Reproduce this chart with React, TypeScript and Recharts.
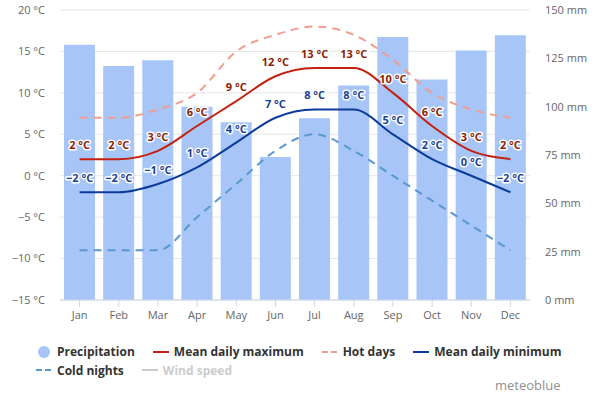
import React from 'react';
import {
  ComposedChart,
  Bar,
  Line,
  XAxis,
  YAxis,
  CartesianGrid,
  LabelList,
} from 'recharts';

const months = ['Jan', 'Feb', 'Mar', 'Apr', 'May', 'Jun', 'Jul', 'Aug', 'Sep', 'Oct', 'Nov', 'Dec'];
const precipitation = [132, 121, 124, 100, 92, 74, 94, 111, 136, 114, 129, 137];
const meanMax = [2, 2, 3, 6, 9, 12, 13, 13, 10, 6, 3, 2];
const meanMin = [-2, -2, -1, 1, 4, 7, 8, 8, 5, 2, 0, -2];
const hotDays = [7, 7, 8, 10, 15, 17, 18, 17, 14, 10, 8, 7];
const coldNights = [-9, -9, -9, -5, -1, 3, 5, 3, 0, -3, -6, -9];

const tempTicks = [-15, -10, -5, 0, 5, 10, 15, 20];
const mmTicks = [0, 25, 50, 75, 100, 125, 150];

const COLORS = {
  bar: '#a7c6f7',
  max: '#c5200f',
  maxLabel: '#8c1d05',
  min: '#0c3b9b',
  minLabel: '#1a3f92',
  hot: '#f19d8d',
  cold: '#5b97cf',
  grid: '#e6e6e6',
  axis: '#ccd6eb',
  tick: '#666666',
  legend: '#333333',
  hidden: '#cccccc',
};

const FONT = '"Open Sans", "DejaVu Sans", sans-serif';

const data = months.map((m, i) => ({
  month: m,
  precipitation: precipitation[i],
  max: meanMax[i],
  min: meanMin[i],
  hot: hotDays[i],
  cold: coldNights[i],
}));

const fmtNum = (v: number) => (v < 0 ? `\u2212${Math.abs(v)}` : `${v}`);
const fmtTemp = (v: number) => `${fmtNum(v)} °C`;

const tempLabel = (color: string) => (props: any) => {
  const { x, y, value } = props;
  return (
    <text
      x={x}
      y={y - 10}
      textAnchor="middle"
      fill={color}
      stroke="#ffffff"
      strokeWidth={3}
      strokeLinejoin="round"
      paintOrder="stroke"
      fontSize={11}
      fontWeight="bold"
      fontFamily={FONT}
    >
      {fmtTemp(value)}
    </text>
  );
};

const LineSymbol = ({ color, dash }: { color: string; dash?: string }) => (
  <svg width={16} height={12} style={{ marginRight: 5 }}>
    <line x1={0} y1={6} x2={16} y2={6} stroke={color} strokeWidth={2} strokeDasharray={dash} />
  </svg>
);

const itemStyle: React.CSSProperties = {
  display: 'inline-flex',
  alignItems: 'center',
  marginRight: 18,
};

export default function App() {
  return (
    <div style={{ position: 'absolute', left: 0, top: 0, width: 600, height: 400, fontFamily: FONT }}>
      <ComposedChart
        width={600}
        height={400}
        data={data}
        margin={{ top: 10, right: 0, bottom: 75, left: 0 }}
      >
        <CartesianGrid yAxisId="t" vertical={false} stroke={COLORS.grid} />
        <XAxis
          dataKey="month"
          height={25}
          axisLine={{ stroke: COLORS.axis }}
          tickLine={{ stroke: COLORS.axis }}
          tickSize={7}
          tickMargin={4}
          tick={{ fill: COLORS.tick, fontSize: 11, fontFamily: FONT }}
        />
        <YAxis
          yAxisId="t"
          width={60}
          domain={[-15, 20]}
          ticks={tempTicks}
          axisLine={false}
          tickLine={false}
          tickMargin={9}
          tickFormatter={fmtTemp}
          tick={{ fill: COLORS.tick, fontSize: 11, fontFamily: FONT }}
        />
        <YAxis
          yAxisId="mm"
          orientation="right"
          width={70}
          domain={[0, 150]}
          ticks={mmTicks}
          axisLine={false}
          tickLine={false}
          tickMargin={9}
          tickFormatter={(v) => `${v} mm`}
          tick={{ fill: COLORS.tick, fontSize: 11, fontFamily: FONT }}
        />
        <Bar
          yAxisId="mm"
          dataKey="precipitation"
          fill={COLORS.bar}
          barSize={31}
          isAnimationActive={false}
        />
        <Line
          yAxisId="t"
          type="monotone"
          dataKey="hot"
          stroke={COLORS.hot}
          strokeWidth={2}
          strokeDasharray="8 6"
          dot={false}
          isAnimationActive={false}
        />
        <Line
          yAxisId="t"
          type="monotone"
          dataKey="cold"
          stroke={COLORS.cold}
          strokeWidth={2}
          strokeDasharray="8 6"
          dot={false}
          isAnimationActive={false}
        />
        <Line
          yAxisId="t"
          type="monotone"
          dataKey="max"
          stroke={COLORS.max}
          strokeWidth={2}
          dot={false}
          isAnimationActive={false}
        >
          <LabelList dataKey="max" content={tempLabel(COLORS.maxLabel)} />
        </Line>
        <Line
          yAxisId="t"
          type="monotone"
          dataKey="min"
          stroke={COLORS.min}
          strokeWidth={2}
          dot={false}
          isAnimationActive={false}
        >
          <LabelList dataKey="min" content={tempLabel(COLORS.minLabel)} />
        </Line>
      </ComposedChart>

      {/* legend */}
      <div
        style={{
          position: 'absolute',
          left: 36,
          top: 343,
          fontSize: 12,
          fontWeight: 'bold',
          color: COLORS.legend,
          lineHeight: '17px',
        }}
      >
        <div style={{ whiteSpace: 'nowrap' }}>
          <span style={itemStyle}>
            <svg width={16} height={12} style={{ marginRight: 5 }}>
              <circle cx={8} cy={6} r={6} fill={COLORS.bar} />
            </svg>
            Precipitation
          </span>
          <span style={itemStyle}>
            <LineSymbol color={COLORS.max} />
            Mean daily maximum
          </span>
          <span style={itemStyle}>
            <LineSymbol color={COLORS.hot} dash="6 3" />
            Hot days
          </span>
          <span style={itemStyle}>
            <LineSymbol color={COLORS.min} />
            Mean daily minimum
          </span>
        </div>
        <div style={{ whiteSpace: 'nowrap' }}>
          <span style={itemStyle}>
            <LineSymbol color={COLORS.cold} dash="6 3" />
            Cold nights
          </span>
          <span style={{ ...itemStyle, color: COLORS.hidden }}>
            <LineSymbol color={COLORS.hidden} />
            Wind speed
          </span>
        </div>
      </div>

      <div
        style={{
          position: 'absolute',
          left: 495,
          top: 376,
          fontSize: 13,
          color: '#909090',
        }}
      >
        meteoblue
      </div>
    </div>
  );
}
